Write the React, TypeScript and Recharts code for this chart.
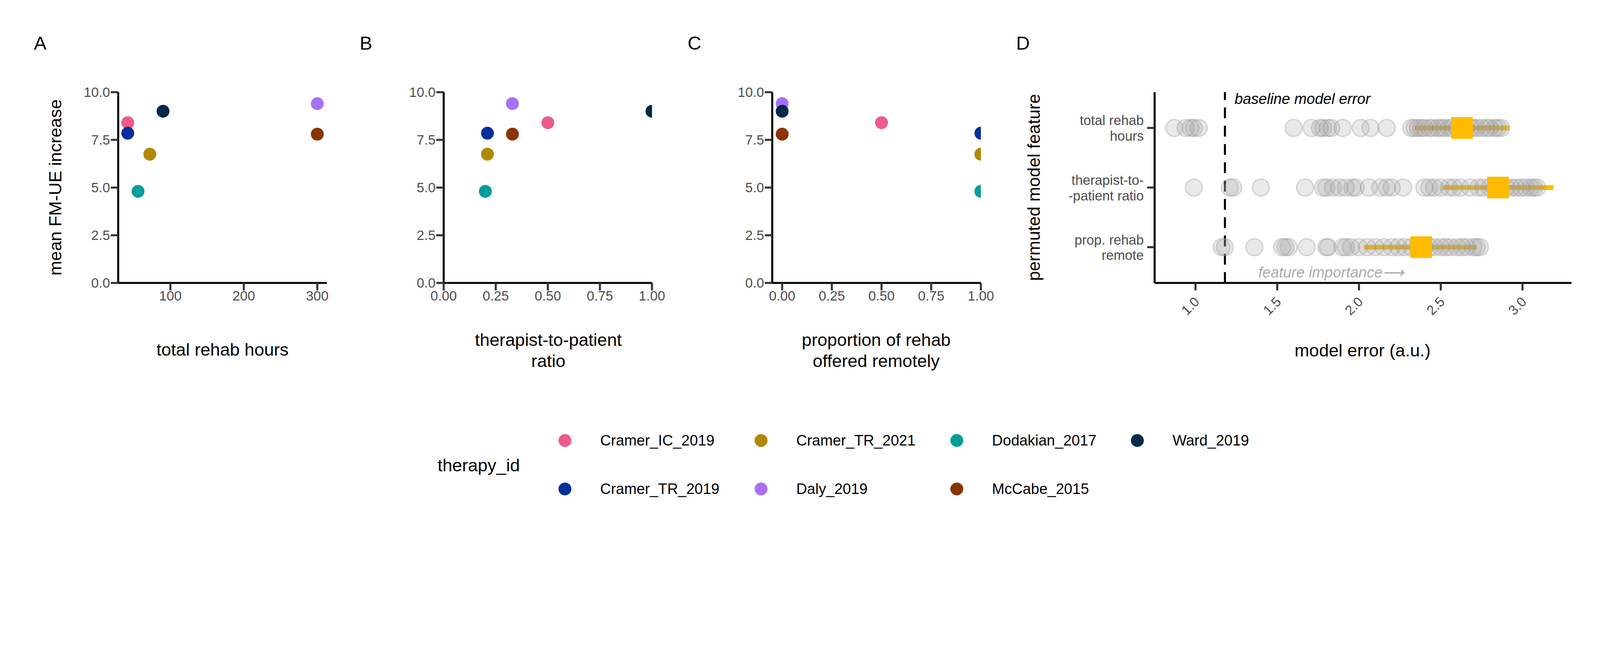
import React from 'react'
import { ScatterChart, Scatter, XAxis, YAxis, ReferenceLine } from 'recharts'

const therapies = ['Cramer_IC_2019', 'Cramer_TR_2019', 'Cramer_TR_2021', 'Daly_2019', 'Dodakian_2017', 'McCabe_2015', 'Ward_2019']
const colors = ['#EF5A8E', '#00309A', '#B28800', '#A770F7', '#009E97', '#8B3400', '#00284A']
const fmIncrease = [8.4, 7.85, 6.75, 9.4, 4.8, 7.8, 9.0]
const rehabHours = [42, 42, 72, 300, 56, 300, 90]
const ratio = [0.5, 0.21, 0.21, 0.33, 0.2, 0.33, 1.0]
const remote = [0.5, 1, 1, 0, 1, 0, 0]

const legendRow1 = ['Cramer_IC_2019', 'Cramer_TR_2021', 'Dodakian_2017', 'Ward_2019']
const legendRow2 = ['Cramer_TR_2019', 'Daly_2019', 'McCabe_2015']

const featureLabels = [['prop. rehab', 'remote'], ['therapist-to-', '-patient ratio'], ['total rehab', 'hours']]
const baselineError = 1.18
const hoursErr = [0.87, 0.94, 0.97, 0.99, 1.02, 1.6, 1.71, 1.76, 1.78, 1.81, 1.83, 1.9, 2.01, 2.07, 2.17, 2.32, 2.34, 2.36, 2.38, 2.4, 2.43, 2.45, 2.48, 2.5, 2.52, 2.55, 2.57, 2.6, 2.62, 2.65, 2.68, 2.7, 2.72, 2.75, 2.78, 2.8, 2.83, 2.85, 2.87]
const ratioErr = [0.99, 1.21, 1.23, 1.4, 1.67, 1.78, 1.8, 1.84, 1.88, 1.92, 1.96, 1.98, 2.06, 2.13, 2.17, 2.2, 2.27, 2.4, 2.43, 2.46, 2.5, 2.55, 2.58, 2.62, 2.68, 2.73, 2.76, 2.8, 2.83, 2.86, 2.9, 2.93, 2.96, 2.99, 3.02, 3.05, 3.07, 3.09]
const remoteErr = [1.16, 1.18, 1.36, 1.53, 1.55, 1.57, 1.68, 1.8, 1.81, 1.9, 1.92, 1.95, 2.0, 2.05, 2.1, 2.15, 2.2, 2.24, 2.28, 2.32, 2.36, 2.4, 2.43, 2.46, 2.5, 2.53, 2.56, 2.6, 2.63, 2.66, 2.7, 2.72, 2.74]
const meanErr = [2.38, 2.85, 2.63]
const lowErr = [2.03, 2.51, 2.34]
const highErr = [2.72, 3.19, 2.92]

const FONT = '"Liberation Sans Narrow", "Liberation Sans", Arial, sans-serif'
const tickStyle = { fontSize: 40, fill: '#4d4d4d', fontFamily: FONT }
const axisLine = { stroke: '#000', strokeWidth: 6 }
const tickLine = { stroke: '#333', strokeWidth: 6 }

function Dot(props: any) {
  return <circle cx={props.cx} cy={props.cy} r={19} fill={props.payload.color} />
}

// plot area starts 349px into each panel box
function Panel({ left, xKey, xDomain, xTicks, xFmt, plotW }: any) {
  const data = therapies.map((t, i) => ({ t, color: colors[i], y: fmIncrease[i], hours: rehabHours[i], ratio: ratio[i], remote: remote[i] }))
  return (
    <div style={{ position: 'absolute', left, top: 0 }}>
      <ScatterChart width={1000} height={1100} margin={{ left: 269, top: 272, right: 1000 - 349 - plotW, bottom: 185 }}>
        <XAxis type="number" dataKey={xKey} domain={xDomain} ticks={xTicks} tickFormatter={xFmt} allowDataOverflow
          axisLine={axisLine} tickLine={tickLine} tickSize={22} tick={tickStyle} height={80} />
        <YAxis type="number" dataKey="y" domain={[0, 10]} ticks={[0, 2.5, 5, 7.5, 10]} tickFormatter={(v: number) => v.toFixed(1)}
          axisLine={axisLine} tickLine={tickLine} tickSize={22} tick={tickStyle} width={80} />
        <Scatter data={data} shape={<Dot />} isAnimationActive={false} />
      </ScatterChart>
    </div>
  )
}

function FeatureTick({ x, y, payload }: any) {
  const lines = featureLabels[payload.value - 1]
  return (
    <text x={x - 8} y={y} textAnchor="end" fontSize={40} fill="#4d4d4d" fontFamily={FONT}>
      <tspan x={x - 8} dy={-8}>{lines[0]}</tspan>
      <tspan x={x - 8} dy={46}>{lines[1]}</tspan>
    </text>
  )
}

function RotTick({ x, y, payload }: any) {
  return (
    <text x={x} y={y + 20} textAnchor="end" fontSize={40} fill="#4d4d4d" fontFamily={FONT} transform={`rotate(-45 ${x} ${y + 20})`} dy={20}>
      {payload.value.toFixed(1)}
    </text>
  )
}

function GreyDot(props: any) {
  return <circle cx={props.cx} cy={props.cy} r={25} fill="#999" fillOpacity={0.22} stroke="#999" strokeOpacity={0.35} strokeWidth={4} />
}

function YellowSquare(props: any) {
  return <rect x={props.cx - 32} y={props.cy - 32} width={64} height={64} fill="#FFBB00" />
}

function PanelD() {
  const rows = [remoteErr, ratioErr, hoursErr]
  const grey = rows.flatMap((r, i) => r.map(v => ({ x: v, y: i + 1 })))
  const means = meanErr.map((v, i) => ({ x: v, y: i + 1 }))
  return (
    <div style={{ position: 'absolute', left: 3000, top: 0 }}>
      <ScatterChart width={1724} height={1100} margin={{ left: 109, top: 272, right: 84, bottom: 145 }}>
        <XAxis type="number" dataKey="x" domain={[0.75, 3.3]} ticks={[1, 1.5, 2, 2.5, 3]} allowDataOverflow
          axisLine={axisLine} tickLine={tickLine} tickSize={22} tick={<RotTick />} height={120} />
        <YAxis type="number" dataKey="y" domain={[0.4, 3.6]} ticks={[1, 2, 3]}
          axisLine={axisLine} tickLine={tickLine} tickSize={22} tick={<FeatureTick />} width={300} />
        <ReferenceLine x={baselineError} stroke="#000" strokeWidth={6} strokeDasharray="32 22" />
        <Scatter data={grey} shape={<GreyDot />} isAnimationActive={false} />
        {meanErr.map((_, i) => (
          <ReferenceLine key={i} segment={[{ x: lowErr[i], y: i + 1 }, { x: highErr[i], y: i + 1 }]} stroke="#FFBB00" strokeWidth={14} />
        ))}
        <Scatter data={means} shape={<YellowSquare />} isAnimationActive={false} />
      </ScatterChart>
    </div>
  )
}

const abs = (l: number, t: number, extra: any = {}) => ({ position: 'absolute' as const, left: l, top: t, fontFamily: FONT, ...extra })

export default function App() {
  const cw = typeof document !== 'undefined' ? document.documentElement.clientWidth : 4724
  const dpr = typeof window !== 'undefined' ? window.devicePixelRatio || 1 : 1
  const s = Math.min(1, cw / 4724, 1 / dpr)
  return (
    <div style={{ position: 'absolute', left: 0, top: 0, width: 4724 * s, height: 1653 * s, overflow: 'hidden', background: '#fff' }}>
      <style>{'body{overflow:hidden} .recharts-surface{overflow:visible}'}</style>
      <div style={{ position: 'absolute', left: 0, top: 0, width: 4724, height: 1653, background: '#fff', fontFamily: FONT, transform: `scale(${s})`, transformOrigin: '0 0' }}>
        <Panel left={0} xKey="hours" xDomain={[29, 313]} plotW={616} xTicks={[100, 200, 300]} xFmt={(v: number) => String(v)} />
        <Panel left={961} xKey="ratio" xDomain={[0, 1]} plotW={615} xTicks={[0, 0.25, 0.5, 0.75, 1]} xFmt={(v: number) => v.toFixed(2)} />
        <Panel left={1931} xKey="remote" xDomain={[-0.05, 1]} plotW={616} xTicks={[0, 0.25, 0.5, 0.75, 1]} xFmt={(v: number) => v.toFixed(2)} />
        <PanelD />

        {[['A', 100], ['B', 1062], ['C', 2030], ['D', 3000]].map(([l, x]) => (
          <div key={l as string} style={abs(x as number, 95, { fontSize: 56 })}>{l}</div>
        ))}

        <div style={abs(163, 553, { fontSize: 52, transform: 'translate(-50%,-50%) rotate(-90deg)', whiteSpace: 'nowrap' })}>mean FM-UE increase</div>
        <div style={abs(3052, 553, { fontSize: 52, transform: 'translate(-50%,-50%) rotate(-90deg)', whiteSpace: 'nowrap' })}>permuted model feature</div>
        <div style={abs(657, 1031, { fontSize: 52, transform: 'translate(-50%,-50%)', whiteSpace: 'nowrap' })}>total rehab hours</div>
        <div style={abs(1619, 1034, { fontSize: 52, transform: 'translate(-50%,-50%)', textAlign: 'center', lineHeight: '62px', whiteSpace: 'nowrap' })}>therapist-to-patient<br />ratio</div>
        <div style={abs(2587, 1034, { fontSize: 52, transform: 'translate(-50%,-50%)', textAlign: 'center', lineHeight: '62px', whiteSpace: 'nowrap' })}>proportion of rehab<br />offered remotely</div>
        <div style={abs(4023, 1034, { fontSize: 52, transform: 'translate(-50%,-50%)', whiteSpace: 'nowrap' })}>model error (a.u.)</div>
        <div style={abs(3645, 292, { fontSize: 44, fontStyle: 'italic', transform: 'translateY(-50%)', whiteSpace: 'nowrap' })}>baseline model error</div>
        <div style={abs(3715, 803, { fontSize: 44, fontStyle: 'italic', color: '#aaa', transform: 'translateY(-50%)', whiteSpace: 'nowrap' })}>feature importance⟶</div>

        <div style={abs(1292, 1373, { fontSize: 52, transform: 'translateY(-50%)' })}>therapy_id</div>
        {[legendRow1, legendRow2].map((row, r) => row.map((name, i) => {
          const dotX = [1668, 2247, 2825, 3358][i]
          const y = r === 0 ? 1300 : 1443
          const c = colors[therapies.indexOf(name)]
          return (
            <React.Fragment key={name}>
              <div style={abs(dotX - 19, y - 19, { width: 38, height: 38, borderRadius: '50%', background: c })} />
              <div style={abs(dotX + 104, y, { fontSize: 44, transform: 'translateY(-50%)', whiteSpace: 'nowrap' })}>{name}</div>
            </React.Fragment>
          )
        }))}
      </div>
    </div>
  )
}
